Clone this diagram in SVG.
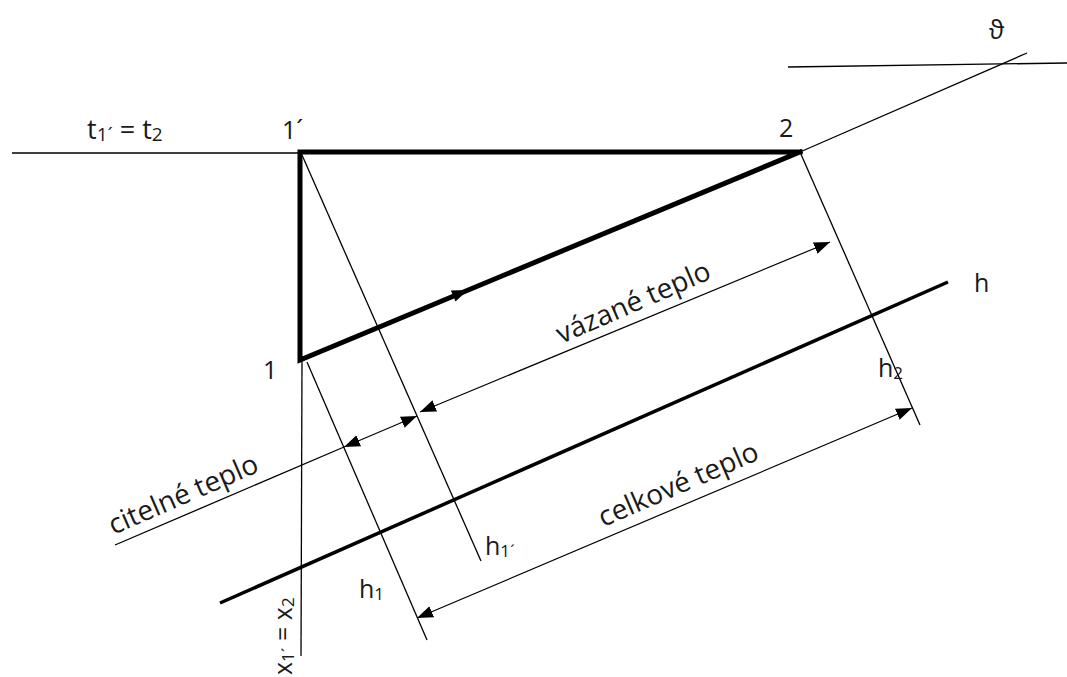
<svg xmlns="http://www.w3.org/2000/svg" width="1067" height="677" viewBox="0 0 1067 677">
<style>
.thin{stroke:#000;stroke-width:1.3;fill:none}
.thick{stroke:#000;stroke-width:5;fill:none;stroke-linejoin:miter;stroke-linecap:square}
.hline{stroke:#000;stroke-width:3.5;fill:none}
.lbl{font-family:"Open Sans","Liberation Sans",sans-serif;font-size:25px;fill:#1a1a1a}
.big{font-family:"Open Sans","Liberation Sans",sans-serif;font-size:28px;fill:#1a1a1a}
.sub{font-size:17px}
.dim{stroke:#000;stroke-width:1.2;fill:none;marker-start:url(#ah);marker-end:url(#ah)}
</style>
<defs>
<marker id="ah" markerUnits="userSpaceOnUse" markerWidth="17" markerHeight="13" viewBox="0 0 17 13" refX="16" refY="6" orient="auto-start-reverse">
<path d="M0,0 L16,6 L0,12 z" fill="#000"/>
</marker>
</defs>
<g id="connectors">
<line class="thin" x1="12" y1="153" x2="300" y2="153"/>
<line class="thin" x1="800" y1="152" x2="1027" y2="53"/>
<line class="thin" x1="788" y1="67" x2="1067" y2="63"/>
<line class="thin" x1="302" y1="155" x2="481" y2="561"/>
<line class="thin" x1="307" y1="362" x2="427" y2="640"/>
<line class="thin" x1="800" y1="152" x2="920" y2="425"/>
<line class="thin" x1="302" y1="360" x2="301" y2="656"/>
<line class="hline" x1="220" y1="603" x2="948" y2="282"/>
<line class="dim" x1="420" y1="412" x2="830" y2="242"/>
<line class="thin" x1="115" y1="545" x2="344" y2="447"/>
<line class="dim" x1="344" y1="447" x2="417" y2="416"/>
<line class="dim" x1="417" y1="618" x2="912" y2="408"/>
</g>
<g id="triangle">
<path class="thick" d="M800,152 L300,152 L300,360 L800,152"/>
<polygon points="468,290 455.5,301.6 450.9,290.6" fill="#000"/>
</g>
<g id="labels">
<text class="lbl" x="87" y="139" style="font-size:27px">t<tspan style="font-size:19px" dy="2">1´</tspan><tspan dy="-2"> = t</tspan><tspan style="font-size:19px" dy="2">2</tspan></text>
<text class="lbl" x="282" y="139">1´</text>
<text class="lbl" x="779" y="137">2</text>
<text class="lbl" x="263" y="379">1</text>
<text class="lbl" x="989" y="39">ϑ</text>
<text class="lbl" x="974" y="292">h</text>
<text class="lbl" x="878" y="377">h<tspan class="sub" dy="2">2</tspan></text>
<text class="lbl" x="485" y="555">h<tspan class="sub" dy="2">1´</tspan></text>
<text class="lbl" x="359" y="598">h<tspan class="sub" dy="2">1</tspan></text>
<text class="lbl" transform="translate(292,675) rotate(-90)">x<tspan class="sub" dy="2">1´</tspan><tspan dy="-2"> = x</tspan><tspan class="sub" dy="2">2</tspan></text>
<text class="big" text-anchor="middle" transform="translate(637,311) rotate(-23.5)">vázané teplo</text>
<text class="big" text-anchor="middle" transform="translate(682,493) rotate(-23.5)">celkové teplo</text>
<text class="big" text-anchor="middle" transform="translate(187,503) rotate(-23.5)">citelné teplo</text>
</g>
</svg>
